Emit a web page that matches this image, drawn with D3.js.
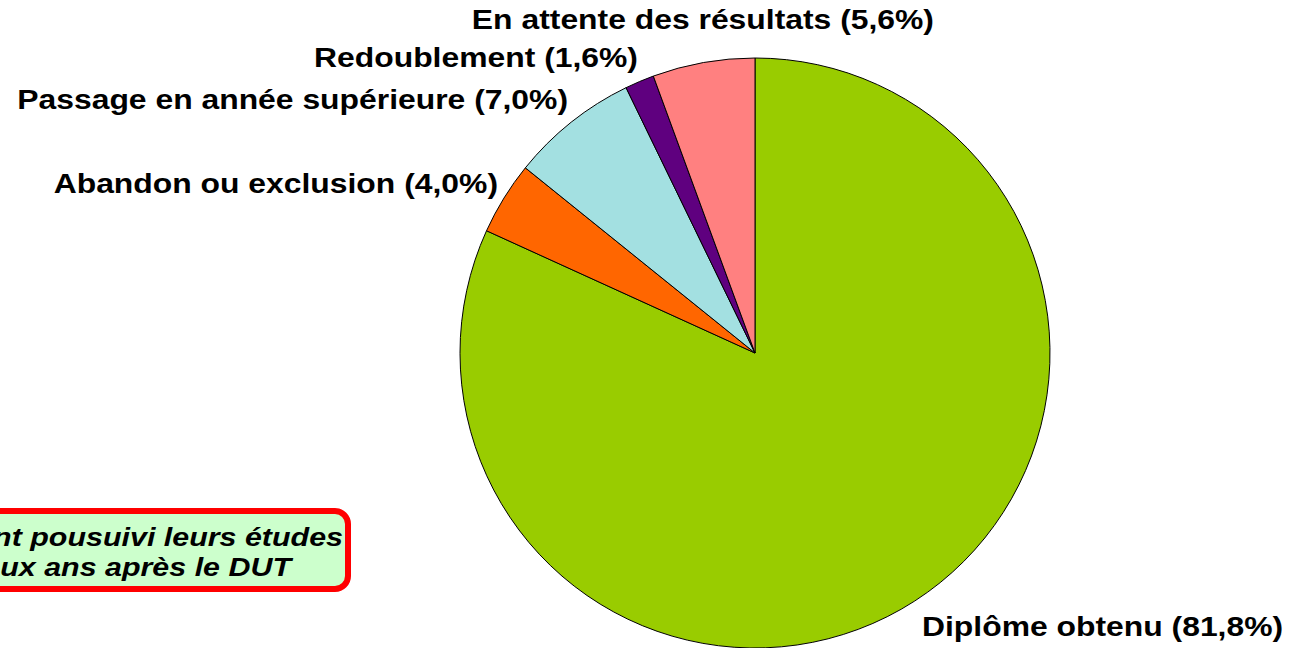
<!DOCTYPE html>
<html>
<head>
<meta charset="utf-8">
<script src="https://cdn.jsdelivr.net/npm/d3@7"></script>
<style>
  html, body { margin: 0; padding: 0; background: #ffffff; }
  svg { display: block; }
  text { font-family: "Liberation Sans", Arial, sans-serif; font-weight: bold; fill: #000; }
</style>
</head>
<body>
<svg id="chart" width="1289" height="648"></svg>
<script>
// Devenir des étudiants ayant poursuivi leurs études (en %)
const categories = [
  "Diplôme obtenu",
  "Abandon ou exclusion",
  "Passage en année supérieure",
  "Redoublement",
  "En attente des résultats"
];
const values = [81.8, 4.0, 7.0, 1.6, 5.6];
const colors = ["#99CC00", "#FF6600", "#A3E0E1", "#5F007F", "#FF8080"];

// Label placement: anchor side and position of each label
const labelLayout = [
  { anchor: "start", x: 922, y: 636 },
  { anchor: "end",   x: 498, y: 193 },
  { anchor: "end",   x: 568, y: 109 },
  { anchor: "end",   x: 638, y: 67 },
  { anchor: "end",   x: 934, y: 29 }
];

const noteLines = ["Diplômés ayant pousuivi leurs études", "deux ans après le DUT"];

const fmt = v => v.toFixed(1).replace(".", ",") + "%";

// Widen glyphs horizontally (the labels use a stretched bold face)
function stretch(sel, factor) {
  sel.each(function () {
    const w = this.getComputedTextLength();
    d3.select(this)
      .attr("textLength", w * factor)
      .attr("lengthAdjust", "spacingAndGlyphs");
  });
}

const svg = d3.select("#chart");
const cx = 755, cy = 353, radius = 295;

const data = categories.map((c, i) => ({ name: c, value: values[i], color: colors[i], i }));

const pie = d3.pie().value(d => d.value).sort(null);
const arc = d3.arc().innerRadius(0).outerRadius(radius);

const g = svg.append("g").attr("transform", `translate(${cx},${cy})`);
g.selectAll("path")
  .data(pie(data))
  .join("path")
  .attr("d", arc)
  .attr("fill", d => d.data.color)
  .attr("stroke", "#000")
  .attr("stroke-width", 1)
  .attr("stroke-linejoin", "round");

svg.selectAll("text.label")
  .data(data)
  .join("text")
  .attr("class", "label")
  .attr("x", d => labelLayout[d.i].x)
  .attr("y", d => labelLayout[d.i].y)
  .attr("text-anchor", d => labelLayout[d.i].anchor)
  .style("font-size", "27px")
  .text(d => `${d.name} (${fmt(d.value)})`)
  .call(stretch, 1.18);

// Annotation box (partly outside the left edge)
const note = svg.append("g");
note.append("rect")
  .attr("x", -300)
  .attr("y", 511)
  .attr("width", 648)
  .attr("height", 78)
  .attr("rx", 13)
  .attr("fill", "#CCFFCC")
  .attr("stroke", "#FF0000")
  .attr("stroke-width", 6);
note.selectAll("text")
  .data(noteLines)
  .join("text")
  .attr("x", (d, i) => i === 0 ? 343 : 291)
  .attr("y", (d, i) => 546 + i * 30)
  .attr("text-anchor", "end")
  .style("font-style", "italic")
  .style("font-size", "26px")
  .text(d => d)
  .call(stretch, 1.17);
</script>
</body>
</html>
